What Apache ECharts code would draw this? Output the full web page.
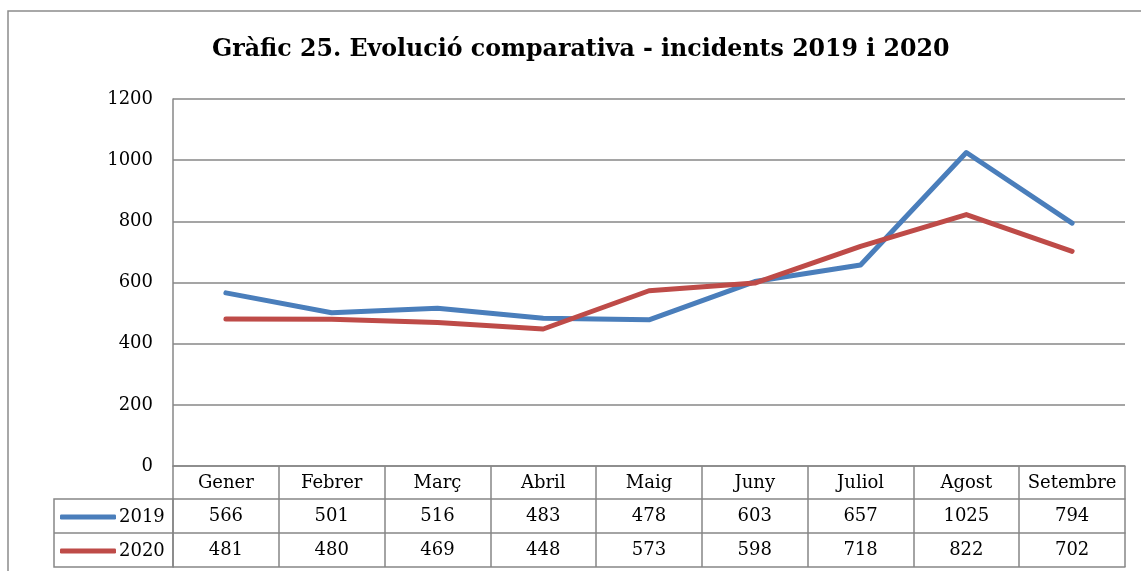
<!DOCTYPE html>
<html>
<head>
<meta charset="utf-8">
<script src="https://cdn.jsdelivr.net/npm/echarts@6/dist/echarts.min.js"></script>
<style>
    html, body { margin: 0; padding: 0; background: #fff; }
    #chart { width: 1141px; height: 571px; }
</style>
</head>
<body>
<div id="chart"></div>
<script>
var months = ['Gener', 'Febrer', 'Març', 'Abril', 'Maig', 'Juny', 'Juliol', 'Agost', 'Setembre'];
var values2019 = [566, 501, 516, 483, 478, 603, 657, 1025, 794];
var values2020 = [481, 480, 469, 448, 573, 598, 718, 822, 702];
var yTicks = [0, 200, 400, 600, 800, 1000, 1200];

var font = 'DejaVu Serif';
var gray = '#878787';

var myChart = echarts.init(document.getElementById('chart'));

// una fila de la taula de dades = un eix x extra, desplaçat cap avall
function tableAxis(offset, rowValues) {
    return {
        type: 'category',
        data: months,
        position: 'bottom',
        offset: offset,
        axisLine: { show: true, lineStyle: { color: gray, width: 1.5 } },
        axisTick: { show: false },
        axisLabel: {
            show: !!rowValues,
            interval: 0,
            margin: 8,
            fontFamily: font,
            fontSize: 18,
            color: '#000',
            formatter: function (val, idx) {
                return rowValues ? String(rowValues[idx]) : '';
            }
        }
    };
}

myChart.setOption({
    animation: false,
    title: {
        text: 'Gràfic 25. Evolució comparativa - incidents 2019 i 2020',
        left: 212,
        top: 38,
        padding: 0,
        textStyle: { fontFamily: font, fontSize: 23.7, fontWeight: 'bold', color: '#000' }
    },
    legend: {
        orient: 'vertical',
        left: 60,
        top: 508,
        padding: 0,
        icon: 'roundRect',
        itemWidth: 56,
        itemHeight: 5,
        itemGap: 16,
        textStyle: { fontFamily: font, fontSize: 18, color: '#000', padding: [0, 0, 0, -2] },
        data: ['2019', '2020']
    },
    grid: {
        left: 173,
        right: 16,
        top: 99,
        bottom: 105,
        containLabel: false
    },
    xAxis: [
        {
            type: 'category',
            data: months,
            position: 'bottom',
            boundaryGap: true,
            axisLine: { show: true, lineStyle: { color: gray, width: 1.5 } },
            axisTick: { show: true, interval: 0, length: 101, inside: false, lineStyle: { color: gray, width: 1.5 } },
            axisLabel: { interval: 0, margin: 8, fontFamily: font, fontSize: 18, color: '#000' }
        },
        tableAxis(33, values2019),
        tableAxis(67, values2020),
        tableAxis(101, null)
    ],
    yAxis: {
        type: 'value',
        min: 0,
        max: 1200,
        interval: 200,
        axisLine: { show: true, lineStyle: { color: gray, width: 1.5 } },
        axisTick: { show: false },
        axisLabel: {
            margin: 20,
            fontFamily: font,
            fontSize: 18,
            color: '#000',
            formatter: function (val) {
                return yTicks.indexOf(val) >= 0 ? String(val) : '';
            }
        },
        splitLine: { show: true, lineStyle: { color: gray, width: 1.5 } }
    },
    graphic: [
        {
            type: 'rect',
            shape: { x: 8, y: 11, width: 1200, height: 700 },
            style: { fill: 'none', stroke: '#8c8c8c', lineWidth: 1.5 },
            silent: true,
            z: -1
        },
        {
            type: 'rect',
            shape: { x: 54, y: 499, width: 119, height: 68 },
            style: { fill: 'none', stroke: gray, lineWidth: 1.5 },
            silent: true
        },
        {
            type: 'line',
            shape: { x1: 54, y1: 533, x2: 173, y2: 533 },
            style: { stroke: gray, lineWidth: 1.5 },
            silent: true
        }
    ],
    series: [
        {
            name: '2019',
            type: 'line',
            data: values2019,
            symbol: 'none',
            color: '#4A7EBB',
            lineStyle: { width: 5, color: '#4A7EBB', cap: 'round', join: 'round' },
            z: 3
        },
        {
            name: '2020',
            type: 'line',
            data: values2020,
            symbol: 'none',
            color: '#BE4B48',
            lineStyle: { width: 5, color: '#BE4B48', cap: 'round', join: 'round' },
            z: 4
        }
    ]
});
</script>
</body>
</html>
